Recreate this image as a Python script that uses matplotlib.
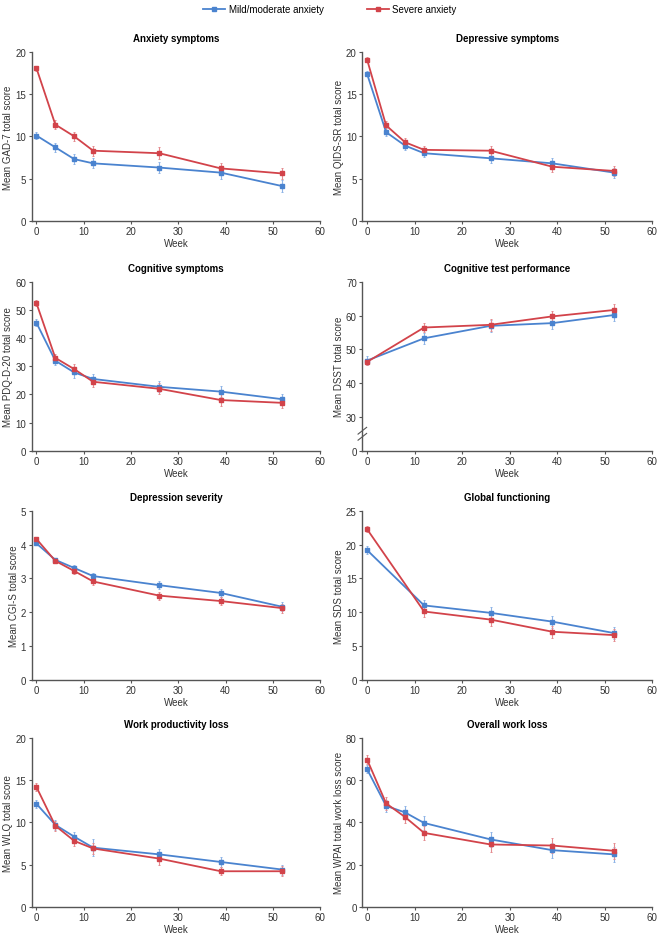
import matplotlib
matplotlib.use("Agg")
import matplotlib.pyplot as plt
from matplotlib.lines import Line2D

weeks7 = [0, 4, 8, 12, 26, 39, 52]
weeks5 = [0, 12, 26, 39, 52]

series_labels = ["Mild/moderate anxiety", "Severe anxiety"]
titles = ["Anxiety symptoms", "Depressive symptoms", "Cognitive symptoms",
          "Cognitive test performance", "Depression severity", "Global functioning",
          "Work productivity loss", "Overall work loss"]
ylabels = ["Mean GAD-7 total score", "Mean QIDS-SR total score", "Mean PDQ-D-20 total score",
           "Mean DSST total score", "Mean CGI-S total score", "Mean SDS total score",
           "Mean WLQ total score", "Mean WPAI total work loss score"]

gad_mild = [10.1, 8.7, 7.3, 6.8, 6.3, 5.7, 4.1]
gad_mild_err = [0.4, 0.5, 0.6, 0.6, 0.7, 0.7, 0.7]
gad_sev = [18.1, 11.4, 10.0, 8.3, 8.0, 6.2, 5.6]
gad_sev_err = [0.3, 0.5, 0.5, 0.6, 0.7, 0.7, 0.7]

qids_mild = [17.4, 10.5, 8.9, 8.0, 7.4, 6.8, 5.7]
qids_mild_err = [0.3, 0.5, 0.5, 0.5, 0.6, 0.6, 0.6]
qids_sev = [19.1, 11.3, 9.3, 8.4, 8.3, 6.4, 5.9]
qids_sev_err = [0.3, 0.5, 0.5, 0.5, 0.6, 0.6, 0.6]

pdq_mild = [45.5, 32.0, 27.8, 25.5, 22.7, 21.0, 18.3]
pdq_mild_err = [1.2, 1.5, 1.8, 1.8, 2.0, 2.0, 1.8]
pdq_sev = [52.5, 33.0, 29.0, 24.5, 22.0, 18.0, 17.0]
pdq_sev_err = [1.2, 1.5, 1.8, 1.8, 2.0, 2.0, 2.0]

dsst_mild = [46.7, 53.3, 57.0, 57.8, 60.2]
dsst_mild_err = [1.3, 1.6, 1.7, 1.8, 1.8]
dsst_sev = [46.3, 56.5, 57.3, 59.8, 61.7]
dsst_sev_err = [1.0, 1.4, 1.7, 1.7, 1.8]

cgi_mild = [4.04, 3.55, 3.31, 3.07, 2.80, 2.57, 2.16]
cgi_mild_err = [0.05, 0.07, 0.08, 0.09, 0.12, 0.13, 0.13]
cgi_sev = [4.17, 3.52, 3.22, 2.91, 2.49, 2.33, 2.12]
cgi_sev_err = [0.05, 0.07, 0.08, 0.09, 0.12, 0.13, 0.13]

sds_mild = [19.2, 11.0, 9.9, 8.6, 6.9]
sds_mild_err = [0.6, 0.8, 0.9, 0.9, 0.9]
sds_sev = [22.3, 10.1, 8.9, 7.1, 6.6]
sds_sev_err = [0.4, 0.8, 0.9, 0.9, 0.9]

wlq_mild = [12.2, 9.7, 8.3, 7.0, 6.2, 5.3, 4.4]
wlq_mild_err = [0.5, 0.6, 0.6, 1.0, 0.6, 0.6, 0.6]
wlq_sev = [14.2, 9.6, 7.8, 6.9, 5.7, 4.2, 4.2]
wlq_sev_err = [0.5, 0.6, 0.6, 0.6, 0.7, 0.5, 0.6]

wpai_mild = [65.2, 47.8, 44.7, 39.7, 31.9, 26.8, 24.8]
wpai_mild_err = [2.0, 3.0, 3.2, 3.5, 3.5, 3.5, 3.5]
wpai_sev = [69.8, 49.0, 42.5, 35.0, 29.5, 29.0, 26.5]
wpai_sev_err = [2.0, 3.0, 3.0, 3.2, 3.5, 3.5, 3.8]

panels = [
    (weeks7, gad_mild, gad_mild_err, gad_sev, gad_sev_err, 20, 5),
    (weeks7, qids_mild, qids_mild_err, qids_sev, qids_sev_err, 20, 5),
    (weeks7, pdq_mild, pdq_mild_err, pdq_sev, pdq_sev_err, 60, 10),
    (weeks5, dsst_mild, dsst_mild_err, dsst_sev, dsst_sev_err, 70, 10),
    (weeks7, cgi_mild, cgi_mild_err, cgi_sev, cgi_sev_err, 5, 1),
    (weeks5, sds_mild, sds_mild_err, sds_sev, sds_sev_err, 25, 5),
    (weeks7, wlq_mild, wlq_mild_err, wlq_sev, wlq_sev_err, 20, 5),
    (weeks7, wpai_mild, wpai_mild_err, wpai_sev, wpai_sev_err, 80, 20),
]

BLUE = "#4a83cf"
RED = "#d2434a"
BLUE_E = "#8fb4e6"
RED_E = "#e48c90"
AXC = "#555555"

fig = plt.figure(figsize=(6.6, 9.37), dpi=100)
plt.rcParams['font.family'] = ['Liberation Sans', 'DejaVu Sans']

lefts = [0.048, 0.549]
width_ax = [0.437, 0.439]
tops = [0.9434, 0.698, 0.4536, 0.2113]
h = 0.180

for i, (wk, ym, em, ys, es, ymax, step) in enumerate(panels):
    r, c = divmod(i, 2)
    ax = fig.add_axes([lefts[c], tops[r] - h, width_ax[c], h])
    for y, e, col, ecol in [(ym, em, BLUE, BLUE_E), (ys, es, RED, RED_E)]:
        ax.errorbar(wk, y, yerr=e, color=col, ecolor=ecol, elinewidth=0.8,
                    capsize=1.0, capthick=0.7, lw=1.3, marker='s', ms=2.3,
                    mec=col, mfc=col, zorder=3)
    ax.set_xlim(-1, 60)
    ax.set_xticks(range(0, 61, 10))
    if i == 3:
        ax.set_ylim(20, 70)
        ax.set_yticks([20, 30, 40, 50, 60, 70])
        ax.set_yticklabels(["0", "30", "40", "50", "60", "70"])
        # axis break marks
        for dy in (-0.9, 0.9):
            ax.plot([-1.9, -0.1], [25 + dy - 1.0, 25 + dy + 1.0], color=AXC,
                    lw=0.8, clip_on=False, zorder=5)
    else:
        ax.set_ylim(0, ymax)
        ax.set_yticks(range(0, ymax + 1, step))
    for s in ["top", "right"]:
        ax.spines[s].set_visible(False)
    for s in ["left", "bottom"]:
        ax.spines[s].set_color(AXC)
        ax.spines[s].set_linewidth(1.0)
    ax.tick_params(colors="#333333", labelsize=7, length=2.5, width=0.8, pad=1.5)
    ax.tick_params(color=AXC)
    ax.set_title(titles[i], fontsize=7, fontweight='bold', pad=8)
    ax.set_ylabel(ylabels[i], fontsize=7, labelpad=1.5, color="#333333")
    ax.set_xlabel("Week", fontsize=7, labelpad=1, color="#333333")

handles = [Line2D([0], [0], color=BLUE, lw=1.3, marker='s', ms=2.3),
           Line2D([0], [0], color=RED, lw=1.3, marker='s', ms=2.3)]
fig.legend(handles, series_labels, loc='upper center', bbox_to_anchor=(0.5, 1.004),
           ncol=2, frameon=False, fontsize=7, handlelength=2.2, columnspacing=4.5,
           handletextpad=0.4)

fig.savefig("out.png", dpi=100)
